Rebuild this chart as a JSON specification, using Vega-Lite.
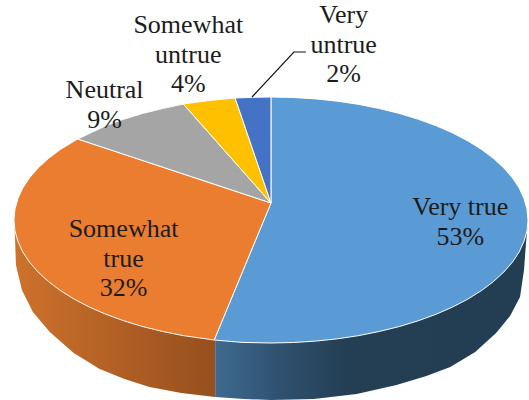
{
"$schema":"https://vega.github.io/schema/vega-lite/v6.json",
"width":529,"height":400,"autosize":{"type":"fit","contains":"padding"},"padding":0,
"background":"white","view":{"stroke":null},
"config":{"axis":{"grid":false}},
"datasets":{
"side":[
{"part":"Somewhat true side","i":0,"x":215,"y":300},{"part":"Somewhat true side","i":1,"x":14,"y":220},{"part":"Somewhat true side","i":2,"x":15,"y":235},{"part":"Somewhat true side","i":3,"x":16,"y":265},{"part":"Somewhat true side","i":4,"x":22,"y":290},{"part":"Somewhat true side","i":5,"x":33,"y":312},{"part":"Somewhat true side","i":6,"x":50,"y":332},{"part":"Somewhat true side","i":7,"x":74,"y":353},{"part":"Somewhat true side","i":8,"x":100,"y":369},{"part":"Somewhat true side","i":9,"x":125,"y":379},{"part":"Somewhat true side","i":10,"x":150,"y":387},{"part":"Somewhat true side","i":11,"x":182,"y":393},{"part":"Somewhat true side","i":12,"x":216,"y":397},{"part":"Somewhat true side","i":13,"x":216,"y":300},
{"part":"Very true side","i":0,"x":216,"y":300},{"part":"Very true side","i":1,"x":216,"y":397},{"part":"Very true side","i":2,"x":245,"y":399},{"part":"Very true side","i":3,"x":272,"y":400},{"part":"Very true side","i":4,"x":315,"y":399},{"part":"Very true side","i":5,"x":358,"y":394},{"part":"Very true side","i":6,"x":398,"y":385},{"part":"Very true side","i":7,"x":428,"y":376},{"part":"Very true side","i":8,"x":452,"y":367},{"part":"Very true side","i":9,"x":477,"y":352},{"part":"Very true side","i":10,"x":498,"y":333},{"part":"Very true side","i":11,"x":512,"y":316},{"part":"Very true side","i":12,"x":522,"y":297},{"part":"Very true side","i":13,"x":526,"y":270},{"part":"Very true side","i":14,"x":528,"y":243},{"part":"Very true side","i":15,"x":530,"y":220}
],
"top":[
{"part":"Very true","i":0,"x":272,"y":203},{"part":"Very true","i":1,"x":272,"y":97},{"part":"Very true","i":2,"x":294.5,"y":97.5},{"part":"Very true","i":3,"x":316.9,"y":98.9},{"part":"Very true","i":4,"x":338.8,"y":101.2},{"part":"Very true","i":5,"x":360.2,"y":104.4},{"part":"Very true","i":6,"x":381,"y":108.6},{"part":"Very true","i":7,"x":401,"y":113.5},{"part":"Very true","i":8,"x":420,"y":119.3},{"part":"Very true","i":9,"x":437.9,"y":125.8},{"part":"Very true","i":10,"x":454.4,"y":133},{"part":"Very true","i":11,"x":469.6,"y":140.9},{"part":"Very true","i":12,"x":483.3,"y":149.4},{"part":"Very true","i":13,"x":495.4,"y":158.5},{"part":"Very true","i":14,"x":505.8,"y":168},{"part":"Very true","i":15,"x":514.5,"y":178},{"part":"Very true","i":16,"x":521.2,"y":188.1},{"part":"Very true","i":17,"x":526,"y":198.6},{"part":"Very true","i":18,"x":529,"y":209.3},{"part":"Very true","i":19,"x":530,"y":220},{"part":"Very true","i":20,"x":529,"y":230.7},{"part":"Very true","i":21,"x":526,"y":241.4},{"part":"Very true","i":22,"x":521.2,"y":251.9},{"part":"Very true","i":23,"x":514.5,"y":262},{"part":"Very true","i":24,"x":505.8,"y":272},{"part":"Very true","i":25,"x":495.4,"y":281.5},{"part":"Very true","i":26,"x":483.3,"y":290.6},{"part":"Very true","i":27,"x":469.6,"y":299.1},{"part":"Very true","i":28,"x":454.4,"y":307},{"part":"Very true","i":29,"x":437.9,"y":314.2},{"part":"Very true","i":30,"x":420,"y":320.7},{"part":"Very true","i":31,"x":401,"y":326.5},{"part":"Very true","i":32,"x":381,"y":331.4},{"part":"Very true","i":33,"x":360.2,"y":335.6},{"part":"Very true","i":34,"x":338.8,"y":338.8},{"part":"Very true","i":35,"x":316.9,"y":341.1},{"part":"Very true","i":36,"x":294.5,"y":342.5},{"part":"Very true","i":37,"x":272,"y":343},{"part":"Very true","i":38,"x":243,"y":342.4},{"part":"Very true","i":39,"x":215,"y":340},{"part":"Very true","i":40,"x":272,"y":203},
{"part":"Somewhat true","i":0,"x":272,"y":203},{"part":"Somewhat true","i":1,"x":215,"y":340},{"part":"Somewhat true","i":2,"x":183.8,"y":335.6},{"part":"Somewhat true","i":3,"x":163,"y":331.4},{"part":"Somewhat true","i":4,"x":143,"y":326.5},{"part":"Somewhat true","i":5,"x":124,"y":320.7},{"part":"Somewhat true","i":6,"x":106.1,"y":314.2},{"part":"Somewhat true","i":7,"x":89.6,"y":307},{"part":"Somewhat true","i":8,"x":74.4,"y":299.1},{"part":"Somewhat true","i":9,"x":60.7,"y":290.6},{"part":"Somewhat true","i":10,"x":48.6,"y":281.5},{"part":"Somewhat true","i":11,"x":38.2,"y":272},{"part":"Somewhat true","i":12,"x":29.5,"y":262},{"part":"Somewhat true","i":13,"x":22.8,"y":251.9},{"part":"Somewhat true","i":14,"x":18,"y":241.4},{"part":"Somewhat true","i":15,"x":15,"y":230.7},{"part":"Somewhat true","i":16,"x":14,"y":220},{"part":"Somewhat true","i":17,"x":15,"y":209.3},{"part":"Somewhat true","i":18,"x":18,"y":198.6},{"part":"Somewhat true","i":19,"x":22.8,"y":188.1},{"part":"Somewhat true","i":20,"x":29.5,"y":178},{"part":"Somewhat true","i":21,"x":38.2,"y":168},{"part":"Somewhat true","i":22,"x":48.6,"y":158.5},{"part":"Somewhat true","i":23,"x":60.7,"y":149.4},{"part":"Somewhat true","i":24,"x":78,"y":139},{"part":"Somewhat true","i":25,"x":272,"y":203},
{"part":"Neutral","i":0,"x":272,"y":203},{"part":"Neutral","i":1,"x":78,"y":139},{"part":"Neutral","i":2,"x":106.1,"y":125.8},{"part":"Neutral","i":3,"x":124,"y":119.3},{"part":"Neutral","i":4,"x":143,"y":113.5},{"part":"Neutral","i":5,"x":163,"y":108.6},{"part":"Neutral","i":6,"x":184,"y":104},{"part":"Neutral","i":7,"x":272,"y":203},
{"part":"Somewhat untrue","i":0,"x":272,"y":203},{"part":"Somewhat untrue","i":1,"x":184,"y":104},{"part":"Somewhat untrue","i":2,"x":210,"y":100.5},{"part":"Somewhat untrue","i":3,"x":236,"y":98},{"part":"Somewhat untrue","i":4,"x":272,"y":203},
{"part":"Very untrue","i":0,"x":272,"y":203},{"part":"Very untrue","i":1,"x":236,"y":98},{"part":"Very untrue","i":2,"x":254,"y":97.3},{"part":"Very untrue","i":3,"x":272,"y":97},{"part":"Very untrue","i":4,"x":272,"y":203}
],
"leader":[{"i":0,"x":253,"y":97},{"i":1,"x":295,"y":52},{"i":2,"x":307,"y":52}],
"labels":[
{"label":"Very true\n53%","x":462,"y":207},
{"label":"Somewhat\ntrue\n32%","x":124,"y":229},
{"label":"Neutral\n9%","x":105,"y":90},
{"label":"Somewhat\nuntrue\n4%","x":189,"y":25},
{"label":"Very\nuntrue\n2%","x":345,"y":15}
]},
"encoding":{
"x":{"field":"x","type":"quantitative","scale":{"domain":[0,529],"nice":false,"zero":false},"axis":null},
"y":{"field":"y","type":"quantitative","scale":{"domain":[400,0],"nice":false,"zero":false},"axis":null},
"order":{"field":"i"}
},
"layer":[
{"data":{"name":"side"},"transform":[{"filter":"datum.part==='Somewhat true side'"}],
 "mark":{"type":"line","strokeWidth":0,"fill":{"gradient":"linear","x1":0,"x2":1,"y1":0,"y2":0,"stops":[{"offset":0,"color":"#CE722C"},{"offset":1,"color":"#964F1E"}]}}},
{"data":{"name":"side"},"transform":[{"filter":"datum.part==='Very true side'"}],
 "mark":{"type":"line","strokeWidth":0,"fill":{"gradient":"linear","x1":0,"x2":1,"y1":0,"y2":0,"stops":[{"offset":0,"color":"#3F6A90"},{"offset":0.2,"color":"#2F5270"},{"offset":0.42,"color":"#243F54"},{"offset":1,"color":"#233E52"}]}}},
{"data":{"name":"top"},"mark":{"type":"line","stroke":"white","strokeWidth":1,"strokeJoin":"round"},
 "encoding":{"detail":{"field":"part"},"fill":{"field":"part","type":"nominal","legend":null,"scale":{"domain":["Very true","Somewhat true","Neutral","Somewhat untrue","Very untrue"],"range":["#5B9BD5","#EB7D31","#A5A5A5","#FFC000","#4472C4"]}}}},
{"data":{"name":"leader"},"mark":{"type":"line","color":"#111111","strokeWidth":1.2}},
{"data":{"name":"labels"},"mark":{"type":"text","font":"Liberation Serif","fontSize":26,"lineBreak":"\n","lineHeight":29.5,"color":"#1c1c1c","align":"center","baseline":"middle"},
 "encoding":{"text":{"field":"label","type":"nominal"},"order":null}}
]
}
